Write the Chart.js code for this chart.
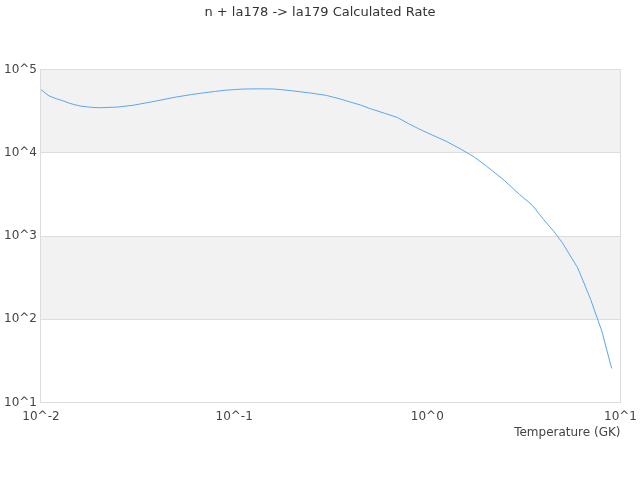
<!DOCTYPE html>
<html>
<head>
<meta charset="utf-8">
<script src="https://cdn.jsdelivr.net/npm/chart.js@4"></script>
<style>
  html, body { margin: 0; padding: 0; background: #fff; }
  #wrap { width: 640px; height: 480px; }
</style>
</head>
<body>
<div id="wrap"><canvas id="rateChart"></canvas></div>
<script>
const temperatures = [0.01, 0.011, 0.012, 0.013, 0.014, 0.015, 0.016, 0.018, 0.02, 0.025,
  0.03, 0.04, 0.05, 0.06, 0.07, 0.08, 0.09, 0.1, 0.11, 0.12,
  0.13, 0.14, 0.15, 0.16, 0.18, 0.2, 0.25, 0.3, 0.35, 0.4,
  0.45, 0.5, 0.6, 0.7, 0.8, 0.9, 1.0, 1.25, 1.5, 1.75,
  2.0, 2.5, 3.0, 3.5, 4.0, 4.5, 5.0, 6.0, 7.0, 8.0, 9.0];
const rates = [57400, 48400, 44700, 42200, 39500, 37800, 36500, 35300, 34800, 35500,
  37300, 42200, 46800, 50100, 52700, 54700, 56500, 57500, 58300, 58600,
  58700, 58700, 58600, 58500, 57100, 55600, 52200, 49000, 44700, 40700,
  37600, 34300, 29900, 26600, 22400, 19500, 17400, 13800, 11000, 8910,
  7080, 4680, 3160, 2340, 1580, 1150, 832, 417, 174, 72.4, 25.7];
const xTicks = [0.01, 0.1, 1, 10];
const yTicks = [10, 100, 1000, 10000, 100000];

const points = temperatures.map((t, i) => ({ x: t, y: rates[i] }));

function powLabel(v) {
  return '10^' + Math.round(Math.log10(v));
}

// grey stripes between every other decade
const bands = {
  id: 'bands',
  beforeDraw(chart) {
    const ctx = chart.ctx;
    const area = chart.chartArea;
    const y = chart.scales.y;
    ctx.save();
    ctx.fillStyle = '#f2f2f2';
    for (let i = 0; i < yTicks.length - 1; i++) {
      if ((yTicks.length - 2 - i) % 2 === 0) {
        const top = y.getPixelForValue(yTicks[i + 1]);
        const bot = y.getPixelForValue(yTicks[i]);
        ctx.fillRect(area.left, top, area.right - area.left, bot - top);
      }
    }
    ctx.restore();
  }
};

Chart.defaults.font.family = 'DejaVu Sans';
Chart.defaults.color = '#444';

new Chart(document.getElementById('rateChart'), {
  type: 'line',
  data: {
    datasets: [{
      data: points,
      borderColor: '#5aa7ee',
      borderWidth: 1,
      pointRadius: 0,
      tension: 0,
      fill: false
    }]
  },
  options: {
    responsive: true,
    maintainAspectRatio: false,
    animation: false,
    layout: { padding: { left: 0, right: 0, top: 0, bottom: 41 } },
    plugins: {
      legend: { display: false },
      tooltip: { enabled: false },
      title: {
        display: true,
        text: 'n + la178 -> la179 Calculated Rate',
        font: { size: 13, weight: 'normal' },
        color: '#333',
        padding: { top: 5, bottom: 49 }
      }
    },
    scales: {
      x: {
        type: 'logarithmic',
        min: 0.01,
        max: 10,
        afterBuildTicks: (s) => { s.ticks = xTicks.map(v => ({ value: v })); },
        ticks: { callback: (v) => powLabel(v), maxRotation: 0, font: { size: 12 }, padding: 3 },
        grid: {
          drawTicks: true,
          tickLength: 4,
          tickColor: 'rgba(0,0,0,0)',
          color: (c) => (c.tick && c.tick.value === 10 ? '#dddddd' : 'rgba(0,0,0,0)')
        },
        border: { color: '#dddddd' },
        title: {
          display: true,
          text: 'Temperature (GK)',
          align: 'end',
          font: { size: 12, lineHeight: 1 },
          padding: { top: 0, bottom: 0 }
        }
      },
      y: {
        type: 'logarithmic',
        min: 10,
        max: 100000,
        afterBuildTicks: (s) => { s.ticks = yTicks.map(v => ({ value: v })); },
        ticks: { callback: (v) => powLabel(v), font: { size: 12 }, padding: 4 },
        grid: { drawTicks: false, color: '#dddddd' },
        border: { color: '#dddddd' }
      }
    }
  },
  plugins: [bands]
});
</script>
</body>
</html>
